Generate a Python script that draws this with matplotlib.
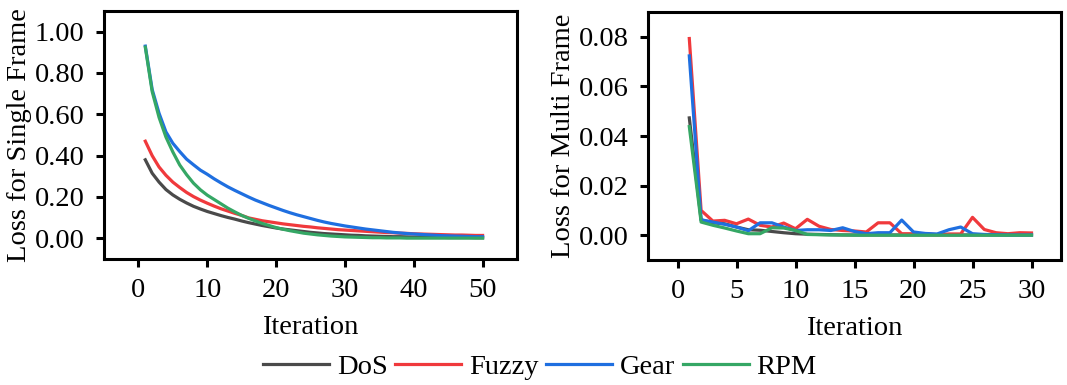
import numpy as np
import matplotlib
matplotlib.use("Agg")
import matplotlib.pyplot as plt

plt.rcParams['font.family'] = ['Liberation Serif', 'DejaVu Serif']
plt.rcParams['font.size'] = 20.5

# single frame loss, iterations 1..50
iter_single = np.arange(1, 51)
dos_single = [0.38, 0.315, 0.272, 0.236, 0.21, 0.189, 0.171, 0.155, 0.142, 0.13,
              0.12, 0.11, 0.101, 0.093, 0.084, 0.076, 0.069, 0.062, 0.056, 0.05,
              0.045, 0.041, 0.037, 0.033, 0.029, 0.026, 0.023, 0.021, 0.019, 0.017,
              0.015, 0.014, 0.012, 0.011, 0.010, 0.009, 0.008, 0.008, 0.007, 0.006,
              0.006, 0.005, 0.005, 0.005, 0.004, 0.004, 0.004, 0.004, 0.003, 0.003]
fuzzy_single = [0.47, 0.40, 0.345, 0.305, 0.272, 0.246, 0.222, 0.202, 0.185, 0.17,
                0.156, 0.143, 0.132, 0.121, 0.111, 0.099, 0.092, 0.085, 0.08, 0.075,
                0.07, 0.066, 0.062, 0.058, 0.055, 0.051, 0.048, 0.045, 0.042, 0.04,
                0.038, 0.036, 0.034, 0.032, 0.030, 0.028, 0.027, 0.025, 0.024, 0.022,
                0.021, 0.020, 0.019, 0.018, 0.017, 0.016, 0.016, 0.015, 0.014, 0.014]
gear_single = [0.93, 0.72, 0.605, 0.515, 0.46, 0.42, 0.383, 0.356, 0.33, 0.31,
               0.288, 0.268, 0.249, 0.232, 0.216, 0.2, 0.185, 0.172, 0.159, 0.147,
               0.135, 0.124, 0.114, 0.105, 0.096, 0.087, 0.079, 0.072, 0.066, 0.06,
               0.055, 0.05, 0.045, 0.041, 0.037, 0.033, 0.029, 0.026, 0.023, 0.021,
               0.019, 0.017, 0.015, 0.013, 0.012, 0.011, 0.010, 0.009, 0.008, 0.008]
rpm_single = [0.925, 0.71, 0.585, 0.49, 0.418, 0.355, 0.308, 0.267, 0.235, 0.209,
              0.188, 0.167, 0.146, 0.128, 0.111, 0.097, 0.084, 0.072, 0.062, 0.052,
              0.044, 0.037, 0.031, 0.025, 0.021, 0.017, 0.014, 0.011, 0.009, 0.007,
              0.006, 0.005, 0.004, 0.003, 0.003, 0.002, 0.002, 0.002, 0.001, 0.001,
              0.001, 0.001, 0.001, 0.001, 0.001, 0.001, 0.001, 0.001, 0.001, 0.001]

# multi frame loss, iterations 1..30
iter_multi = np.arange(1, 31)
dos_multi = [0.0473, 0.0062, 0.0050, 0.0046, 0.0033, 0.0022, 0.0020, 0.0015, 0.0010, 0.0006,
             0.0004, 0.0003, 0.0002, 0.0001, 0.0001, 0.0001, 0.0001, 0.0001, 0.0001, 0.0001,
             0.0001, 0.0001, 0.0001, 0.0001, 0.0001, 0.0001, 0.0001, 0.0001, 0.0001, 0.0001]
fuzzy_multi = [0.0793, 0.0100, 0.0057, 0.0060, 0.0046, 0.0065, 0.0040, 0.0033, 0.0049, 0.0026,
               0.0064, 0.0036, 0.0023, 0.0019, 0.0017, 0.0013, 0.0050, 0.0050, 0.0006, 0.0006,
               0.0005, 0.0002, 0.0005, 0.0005, 0.0072, 0.0023, 0.0010, 0.0006, 0.0010, 0.0009]
gear_multi = [0.0723, 0.0062, 0.0053, 0.0044, 0.0033, 0.0018, 0.0050, 0.0050, 0.0033, 0.0019,
              0.0022, 0.0022, 0.0019, 0.0030, 0.0015, 0.0006, 0.0010, 0.0010, 0.0061, 0.0013,
              0.0007, 0.0005, 0.0022, 0.0033, 0.0006, 0.0003, 0.0002, 0.0001, 0.0001, 0.0001]
rpm_multi = [0.0438, 0.0053, 0.0040, 0.0029, 0.0017, 0.0006, 0.0006, 0.0030, 0.0029, 0.0019,
             0.0003, 0.0002, 0.0001, 0.0001, 0.0000, 0.0000, 0.0000, 0.0000, 0.0000, 0.0000,
             0.0000, 0.0000, 0.0000, 0.0000, 0.0000, 0.0000, 0.0000, 0.0000, 0.0000, 0.0000]

labels = ["DoS", "Fuzzy", "Gear", "RPM"]
colors = ["#4a4a4a", "#f0393c", "#1f6fe0", "#35a765"]

fig = plt.figure(figsize=(10.67, 3.85), dpi=100)
ax1 = fig.add_axes([104/1067, 1-259/385, 413/1067, 248/385])
ax2 = fig.add_axes([648/1067, 1-260/385, 413/1067, 248/385])

for ys, lab, c in zip([dos_single, fuzzy_single, gear_single, rpm_single], labels, colors):
    ax1.plot(iter_single, ys, color=c, lw=2.3, label=lab)
for ys, lab, c in zip([dos_multi, fuzzy_multi, gear_multi, rpm_multi], labels, colors):
    ax2.plot(iter_multi, ys, color=c, lw=2.3, label=lab)

ax1.set_xlim(-5, 55)
ax1.set_ylim(-0.1, 1.1)
ax1.set_xticks([0, 10, 20, 30, 40, 50])
ax1.set_yticks([0.0, 0.2, 0.4, 0.6, 0.8, 1.0])
ax1.yaxis.set_major_formatter(matplotlib.ticker.FormatStrFormatter('%.2f'))
ax1.set_xlabel("Iteration", labelpad=8)
ax1.set_ylabel("Loss for Single Frame", labelpad=2)

ax2.set_xlim(-2.5, 32.5)
ax2.set_ylim(-0.01, 0.09)
ax2.set_xticks([0, 5, 10, 15, 20, 25, 30])
ax2.set_yticks([0.0, 0.02, 0.04, 0.06, 0.08])
ax2.yaxis.set_major_formatter(matplotlib.ticker.FormatStrFormatter('%.2f'))
ax2.set_xlabel("Iteration", labelpad=8)
ax2.set_ylabel("Loss for Multi Frame", labelpad=2)

for ax in [ax1, ax2]:
    for s in ax.spines.values():
        s.set_linewidth(2.2)
    ax.tick_params(direction='out', length=6, width=2.2, pad=8)

handles, labs = ax1.get_legend_handles_labels()
fig.legend(handles, labs, loc='center', bbox_to_anchor=(540/1067, 1-367/385), ncol=4,
           frameon=False, handlelength=2.3, handletextpad=0.28, columnspacing=0.28)

fig.savefig("out.png", dpi=100)
